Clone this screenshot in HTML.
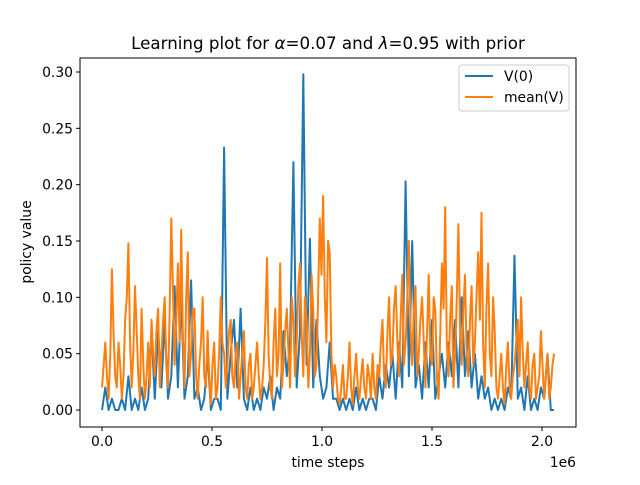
<!DOCTYPE html>
<html><head><meta charset="utf-8"><style>
body{margin:0;background:#fff}
svg{font-family:"DejaVu Sans","Liberation Sans",sans-serif}
</style></head><body>
<svg id="chart" width="640" height="480" viewBox="0 0 640 480">
<rect width="640" height="480" fill="#fff"/>
<text x="328" y="49" text-anchor="middle" font-size="16.7">Learning plot for <tspan font-style="italic">α</tspan>=0.07 and <tspan font-style="italic">λ</tspan>=0.95 with  prior</text>
<g id="plot"></g>
<rect x="80" y="58" width="496" height="369" fill="none" stroke="#000" stroke-width="1"/>
<g id="xt"></g><g id="yt"></g>
<text x="328" y="467" text-anchor="middle" font-size="13.9">time steps</text>
<text x="576" y="467" text-anchor="end" font-size="13.9">1e6</text>
<text transform="translate(31,242) rotate(-90)" text-anchor="middle" font-size="13.9">policy value</text>
<g>
<rect x="459" y="65" width="110" height="46" rx="3" fill="#fff" fill-opacity="0.8" stroke="#ccc"/>
<line x1="465" y1="76" x2="493" y2="76" stroke="#1f77b4" stroke-width="2"/>
<text x="504" y="81" font-size="13.9">V(0)</text>
<line x1="465" y1="97" x2="493" y2="97" stroke="#ff7f0e" stroke-width="2"/>
<text x="504" y="102" font-size="13.9">mean(V)</text>
</g>
</svg>
<script>
const meanStep = 7500;
const v0Step = 15000;
const meanV = [0.02,0.04,0.06,0.03,0.01,0.05,0.125,0.07,0.03,0.02,0.06,0.04,0.01,0.03,0.08,0.1,0.148,0.06,0.02,0.05,
0.11,0.07,0.03,0.01,0.09,0.04,0.01,0.03,0.06,0.02,0.08,0.05,0.03,0.07,0.09,0.02,0.05,0.08,0.1,0.04,
0.02,0.09,0.17,0.11,0.04,0.08,0.13,0.06,0.16,0.07,0.02,0.1,0.14,0.03,0.05,0.09,0.09,0.03,0.01,0.04,
0.06,0.1,0.03,0.02,0.07,0.03,0.005,0.04,0.06,0.01,0.02,0.05,0.1,0.06,0.05,0.02,0.04,0.07,0.08,0.03,
0.02,0.05,0.06,0.01,0.03,0.05,0.07,0.02,0.01,0.04,0.05,0.01,0.02,0.04,0.06,0.03,0.01,0.02,0.04,0.08,
0.135,0.05,0.02,0.01,0.06,0.09,0.03,0.05,0.13,0.02,0.04,0.07,0.09,0.05,0.02,0.1,0.08,0.03,0.06,0.11,
0.13,0.07,0.03,0.1,0.08,0.02,0.05,0.12,0.09,0.03,0.04,0.1,0.17,0.12,0.19,0.1,0.06,0.15,0.14,0.05,
0.02,0.04,0.03,0.01,0.005,0.02,0.04,0.01,0.01,0.03,0.06,0.02,0.005,0.03,0.05,0.02,0.01,0.03,0.045,0.02,
0.01,0.04,0.03,0.01,0.05,0.02,0.01,0.04,0.03,0.06,0.08,0.03,0.02,0.07,0.1,0.04,0.05,0.09,0.11,0.06,
0.03,0.08,0.12,0.04,0.06,0.1,0.15,0.07,0.04,0.09,0.11,0.03,0.05,0.08,0.1,0.06,0.02,0.07,0.12,0.05,
0.04,0.1,0.09,0.03,0.01,0.07,0.13,0.09,0.18,0.06,0.03,0.08,0.11,0.02,0.05,0.1,0.165,0.07,0.04,0.09,
0.12,0.05,0.03,0.08,0.11,0.04,0.06,0.1,0.14,0.08,0.175,0.06,0.02,0.09,0.13,0.05,0.03,0.1,0.07,0.02,
0.01,0.03,0.05,0.02,0.005,0.04,0.06,0.02,0.01,0.03,0.04,0.06,0.08,0.03,0.1,0.05,0.02,0.04,0.06,0.02,
0.01,0.04,0.05,0.01,0.02,0.03,0.07,0.04,0.01,0.03,0.05,0.01,0.02,0.04,0.05];
const v0 = [0,0.02,0,0.01,0,0,0.01,0,0.03,0,0.01,0,0.02,0,0.01,0.07,0.01,0.07,0.02,0.08,
0.01,0.03,0.11,0.02,0.1,0.01,0.03,0.115,0.01,0.02,0,0.01,0.05,0,0.01,0.01,0,0.233,0.01,0.05,
0.08,0.02,0.09,0.01,0,0.02,0,0.01,0,0.02,0.01,0.03,0,0.02,0.01,0.07,0.03,0.06,0.22,0.02,
0.07,0.298,0.04,0.152,0.02,0.08,0.03,0.01,0.02,0.06,0.01,0.01,0,0.01,0,0.01,0,0.02,0,0.01,
0,0.01,0.01,0,0.03,0.01,0.04,0.02,0.05,0.01,0.06,0.02,0.203,0.03,0.15,0.02,0.04,0.01,0.06,0.02,
0.08,0.01,0.03,0.05,0.02,0.06,0.03,0.08,0.02,0.1,0.03,0.07,0.02,0.05,0.01,0.03,0.01,0.02,0,0.01,
0,0.01,0,0.02,0.01,0.137,0.01,0.02,0,0.03,0,0.01,0,0.02,0.01,0.05,0,0];
const xTicks = [0,0.5,1.0,1.5,2.0];
const xTickLabels = ["0.0","0.5","1.0","1.5","2.0"];
const yTicks = [0,0.05,0.1,0.15,0.2,0.25,0.3];
const yTickLabels = ["0.00","0.05","0.10","0.15","0.20","0.25","0.30"];

const NS="http://www.w3.org/2000/svg";
const xs = v => 102 + v/1e6*220;
const ys = v => 410 - v/0.30*338;
function mk(tag, attrs, parent){const e=document.createElementNS(NS,tag);for(const k in attrs)e.setAttribute(k,attrs[k]);parent.appendChild(e);return e;}
const plot=document.getElementById('plot');
function series(arr,step,color,name){
  const d=arr.map((v,i)=>(i?'L':'M')+xs(i*step).toFixed(1)+','+ys(v).toFixed(1)).join('');
  const p=mk('path',{d:d,fill:'none',stroke:color,'stroke-width':2,'stroke-linejoin':'round'},plot);
  
  
}
series(v0,v0Step,'#1f77b4','v0-line');
series(meanV,meanStep,'#ff7f0e','mean-v-line');
const xt=document.getElementById('xt'), yt=document.getElementById('yt');
xTicks.forEach((t,i)=>{
  const x=xs(t*1e6);
  const l=mk('line',{x1:x,x2:x,y1:427,y2:431,stroke:'#000'},xt);
  
  
  const tx=mk('text',{x:x,y:446,'text-anchor':'middle','font-size':13.9},xt);
  tx.textContent=xTickLabels[i];
  
  
});
yTicks.forEach((t,i)=>{
  const y=ys(t);
  const l=mk('line',{x1:76,x2:80,y1:y,y2:y,stroke:'#000'},yt);
  
  
  const tx=mk('text',{x:73,y:y+5,'text-anchor':'end','font-size':13.9},yt);
  tx.textContent=yTickLabels[i];
  
  
});
</script>
</body></html>
